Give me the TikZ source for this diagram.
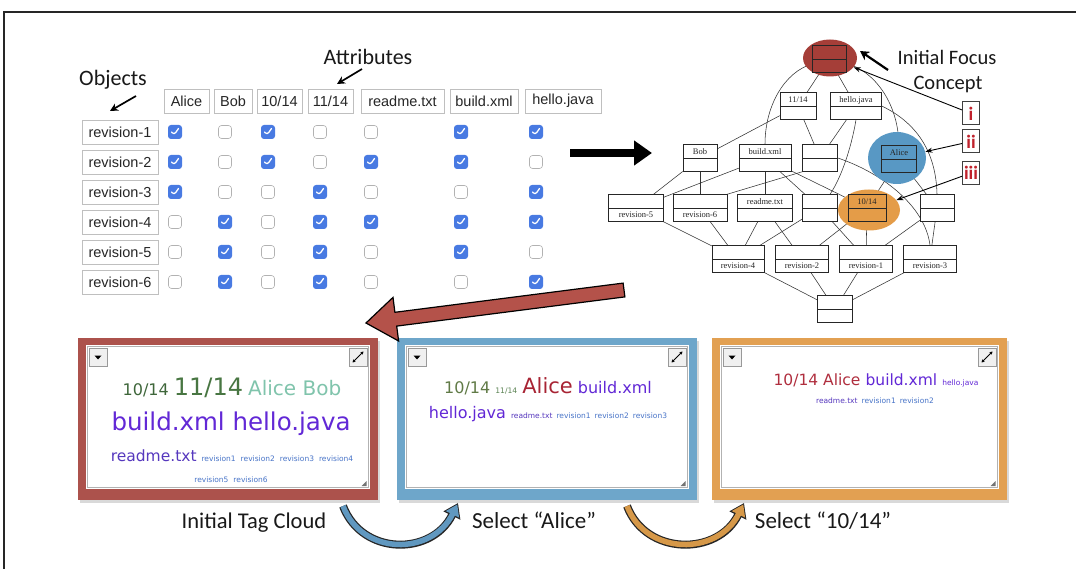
\documentclass[tikz,border=0pt]{standalone}
\usepackage{fontspec}
\setmainfont{Liberation Sans}
\newfontfamily\calfont{Carlito}
\newfontfamily\dvfont{DejaVu Sans}
\newfontfamily\tmsfont{Liberation Serif}
\usetikzlibrary{arrows.meta,shapes.geometric,calc}
\newcommand\fsz[1]{\fontsize{#1}{#1}\selectfont}
\pgfdeclarelayer{back}
\pgfdeclarelayer{bg}
\pgfsetlayers{back,bg,main}

\definecolor{cbblue}{RGB}{72,122,226}
\definecolor{frRed}{RGB}{172,82,76}
\definecolor{frBlue}{RGB}{110,166,202}
\definecolor{frOrg}{RGB}{226,160,82}
\definecolor{elRed}{RGB}{165,62,56}
\definecolor{elBlue}{RGB}{88,152,196}
\definecolor{elOrg}{RGB}{228,156,72}
\definecolor{arRed}{RGB}{180,82,74}
\definecolor{crvBlue}{RGB}{96,152,192}
\definecolor{crvOrg}{RGB}{214,152,72}
\definecolor{dgA}{RGB}{62,102,58}
\definecolor{dgB}{RGB}{72,118,66}
\definecolor{tealA}{RGB}{128,196,172}
\definecolor{purp}{RGB}{98,40,214}
\definecolor{rdm}{RGB}{86,56,190}
\definecolor{revb}{RGB}{72,116,200}
\definecolor{olv}{RGB}{96,122,70}
\definecolor{grnS}{RGB}{92,132,84}
\definecolor{redA}{RGB}{168,36,52}
\definecolor{redB}{RGB}{176,46,62}
\definecolor{romRed}{RGB}{192,34,44}

\tikzset{
  hdr/.style={draw=black!25, line width=0.6, fill=white, minimum height=24, inner sep=0, font=\fsz{14.5}, text=black!85},
  objc/.style={hdr, minimum width=76},
  cbon/.style={fill=cbblue, rounded corners=3, minimum size=14, inner sep=0,
    path picture={\draw[white, line width=1.3, line cap=round, line join=round]
      ([xshift=-3.5pt]path picture bounding box.center) -- ++(2.5,3) -- ++(4.5,-6.5);}},
  cboff/.style={draw=black!30, fill=white, rounded corners=3, minimum size=13, inner sep=0, line width=0.6},
  lat/.style={draw=black!85, line width=0.5, fill=white, minimum height=27, inner sep=0,
    path picture={\draw[black!85, line width=0.5] (path picture bounding box.west) -- (path picture bounding box.east);}},
  latc/.style={lat, fill=none},
  llab/.style={font=\tmsfont\fsz{8.5}, inner sep=0, anchor=base, text=black!85},
  latedge/.style={black!80, line width=0.55},
  captxt/.style={inner sep=0, anchor=base, text=black!90},
  cloudtxt/.style={font=\dvfont\fsz{16}, inner sep=0, anchor=base},
  romanbox/.style={draw=black!75, line width=1, fill=white, minimum width=17, minimum height=23, inner sep=0, font=\calfont\bfseries\fsz{19}, text=romRed},
  thinarr/.style={black, line width=0.9, -{Stealth[length=7pt,width=5pt]}},
  callarr/.style={black, line width=1.7, -{Stealth[length=8pt,width=8pt]}},
}

\newcommand\latn[7]{%
  \node[#1, minimum width=#5] (#2) at (#3,#4) {};
  \node[llab] at (#3,#4-3.5) {#6};
  \node[llab] at (#3,#4+10) {#7};
}

\newcommand\tagpanel[6]{%
  \fill[black!15] (#1+2,#2+3) rectangle (#3+2,#4+3);
  \fill[#5] (#1,#2) rectangle (#3,#4);
  \fill[white] (#1+8,#2+7) rectangle (#3-8,#4-11);
  \draw[black!30, line width=0.6] (#1+9.5,#2+8.5) rectangle (#3-9.5,#4-12.5);
  \node[draw=black!40, fill=black!6, minimum size=18, inner sep=0, line width=0.5] (#6L) at (#1+20,#2+19) {};
  \fill[black] (#1+16.5,#2+17.5) -- ++(7,0) -- ++(-3.5,4) -- cycle;
  \node[draw=black!40, fill=black!6, minimum size=18, inner sep=0, line width=0.5] (#6R) at (#3-20,#2+19) {};
  \draw[line width=0.9, {Stealth[length=3pt,width=3.5pt]}-{Stealth[length=3pt,width=3.5pt]}] (#3-25.5,#2+24.5) -- (#3-14.5,#2+13.5);
  \fill[black!55] (#3-11.5,#4-14) -- ++(0,-5) -- ++(-5,5) -- cycle;
}

\begin{document}
\begin{tikzpicture}[x=1pt,y=-1pt]
\useasboundingbox (0,0) rectangle (1076,569);
\begin{pgfonlayer}{back}
\fill[white] (0,0) rectangle (1076,569);
\end{pgfonlayer}
\draw[line width=1.2, black!85] (4,569) -- (4,12) -- (1076,12);

% ---------- table ----------
\node[captxt, font=\calfont\fsz{22}] (objL) at (113,86) {Objects};
\node[captxt, font=\calfont\fsz{22}] (attL) at (368,65) {Attributes};
\coordinate (oa1) at (136,96); \coordinate (oa2) at (110,111);
\draw[callarr] (oa1) -- (oa2);
\coordinate (aa1) at (362,69); \coordinate (aa2) at (337,84);
\draw[callarr] (aa1) -- (aa2);

\node[hdr, minimum width=45] (hA) at (186.5,101) {Alice};
\node[hdr, minimum width=38] (hB) at (233,101) {Bob};
\node[hdr, minimum width=45] (hC) at (279.5,101) {10/14};
\node[hdr, minimum width=45] (hD) at (330.5,101) {11/14};
\node[hdr, minimum width=83] (hE) at (402.5,101) {readme.txt};
\node[hdr, minimum width=68] (hF) at (484,101) {build.xml};
\node[hdr, minimum width=76] (hG) at (563,101) {hello.java};

\foreach \i in {1,...,6} {
  \node[objc] (rv\i) at (120,102+30*\i) {revision-\i};
}
\foreach \pat [count=\i] in {{1,0,1,0,0,1,1},{1,0,1,0,1,1,0},{1,0,0,1,0,0,1},{0,1,0,1,1,1,1},{0,1,0,1,0,1,0},{0,1,0,1,0,0,1}} {
  \foreach \v [count=\j] in \pat {
    \pgfmathsetmacro\xx{{175,225,268,320,371,461,536}[\j-1]}
    \ifnum\v=1
      \node[cbon] (cb-\i-\j) at (\xx,102+30*\i) {};
    \else
      \node[cboff] (cb-\i-\j) at (\xx,102+30*\i) {};
    \fi
  }
}

% black arrow
\coordinate (ba1) at (570,153); \coordinate (ba2) at (652,153);
\draw[line width=8, -{Triangle[length=18pt,width=24pt]}] (ba1) -- (ba2);

% ---------- lattice ----------
\node[ellipse, fill=elRed, minimum width=54, minimum height=37, inner sep=0] (eTop) at (830,58) {};
\node[ellipse, fill=elBlue, minimum width=58, minimum height=52, inner sep=0] (eAlice) at (897,158) {};
\node[ellipse, fill=elOrg, minimum width=62, minimum height=41, inner sep=0] (e1014) at (869,210) {};

\latn{latc}{ntop}{829}{59}{34}{}{}
\latn{lat}{n1114}{798}{106}{36}{11/14}{}
\latn{lat}{nhello}{856}{106}{51}{hello.java}{}
\latn{lat}{nbob}{700}{158}{34}{Bob}{}
\latn{lat}{nbuild}{765}{158}{52}{build.xml}{}
\latn{lat}{nb346}{820}{158}{35}{}{}
\latn{latc}{nalice}{899}{159}{35}{Alice}{}
\latn{lat}{nr5}{636}{208}{55}{}{revision-5}
\latn{lat}{nr6}{700}{208}{54}{}{revision-6}
\latn{lat}{nreadme}{765}{208}{55}{readme.txt}{}
\latn{lat}{nb14}{820}{208}{35}{}{}
\latn{latc}{n1014}{867}{208}{38}{10/14}{}
\latn{lat}{nb13}{937}{208}{34}{}{}
\latn{lat}{nr4}{738}{259}{52}{}{revision-4}
\latn{lat}{nr2}{802}{259}{53}{}{revision-2}
\latn{lat}{nr1}{866}{259}{53}{}{revision-1}
\latn{lat}{nr3}{930}{259}{53}{}{revision-3}
\latn{lat}{nbot}{835}{309}{35}{}{}

\begin{pgfonlayer}{bg}
\draw[latedge] (ntop) -- (n1114);
\draw[latedge] (ntop) -- (nhello);
\draw[latedge] (ntop) .. controls (785,72) and (765,105) .. (nbuild.north);
\draw[latedge] (ntop) .. controls (872,70) and (898,100) .. (nalice.north);
\draw[latedge] (n1114) -- (nbob);
\draw[latedge] (n1114) -- (nb346);
\draw[latedge] (nhello) -- (nb346);
\draw[latedge] (nhello.south) .. controls (851,150) and (840,180) .. ([xshift=10pt]nb14.north);
\draw[latedge] (nhello.east) .. controls (915,122) and (936,150) .. (nb13.north);
\draw[latedge] (nbob) -- (nr5);
\draw[latedge] (nbob) -- (nr6);
\draw[latedge] (nbuild) -- (nr5);
\draw[latedge] (nbuild) -- (nreadme);
\draw[latedge] (nbuild) -- (nb14);
\draw[latedge] (nbuild) -- (n1014);
\draw[latedge] (nb346.south west) -- (nr6.north east);
\draw[latedge] (nb346.east) .. controls (880,172) and (925,205) .. (nr3.north);
\draw[latedge] (nalice) -- (n1014);
\draw[latedge] (nalice) -- (nb13);
\draw[latedge] (nr5) -- (nr4);
\draw[latedge] (nr6) -- (nr4);
\draw[latedge] (nreadme) -- (nr4);
\draw[latedge] (nreadme) -- (nr2);
\draw[latedge] (nb14) -- (nr4);
\draw[latedge] (nb14) -- (nr1);
\draw[latedge] (n1014) -- (nr2);
\draw[latedge] (n1014) -- (nr1);
\draw[latedge] (nb13) -- (nr1);
\draw[latedge] (nb13) -- (nr3);
\draw[latedge] (nr4) -- (nbot);
\draw[latedge] (nr2) -- (nbot);
\draw[latedge] (nr1) -- (nbot);
\draw[latedge] (nr3) -- (nbot);
\end{pgfonlayer}

% focus labels
\node[captxt, font=\calfont\fsz{20.5}] (focA) at (947,65) {Initial Focus};
\node[captxt, font=\calfont\fsz{20.5}] (focB) at (948,90) {Concept};
\coordinate (fa1) at (888,70); \coordinate (fa2) at (860,51);
\draw[black, line width=2.2, -{Stealth[length=9pt,width=10pt]}] (fa1) -- (fa2);

\node[romanbox] (ni) at (971,113.5) {i};
\node[romanbox] (nii) at (971,141.5) {ii};
\node[romanbox] (niii) at (971,173) {iii};
\draw[thinarr] (ni) -- (eTop);
\draw[thinarr] (nii) -- (eAlice);
\draw[thinarr] (niii) -- (e1014);

% ---------- tag cloud panels ----------
\tagpanel{78}{338}{378}{500}{frRed}{pa}
\tagpanel{397}{338}{697}{500}{frBlue}{pb}
\tagpanel{712}{338}{1007}{500}{frOrg}{pc}

\node[cloudtxt] (p1a) at (232,395) {{\color{dgA}\fsz{16}10/14} {\color{dgB}\fsz{24}11/14} {\color{tealA}\fsz{20}Alice Bob}};
\node[cloudtxt] (p1b) at (231,430) {{\color{purp}\fsz{24.5}build.xml hello.java}};
\node[cloudtxt] (p1c) at (232,461) {{\color{rdm}\fsz{15.5}readme.txt}\hspace{5pt}{\color{revb}\fsz{7.5}revision1\hspace{5pt}revision2\hspace{5pt}revision3\hspace{5pt}revision4}};
\node[cloudtxt] (p1d) at (231,482) {{\color{revb}\fsz{7.5}revision5\hspace{5pt}revision6}};

\node[cloudtxt] (p2a) at (548,393) {{\color{olv}\fsz{16}10/14} {\color{grnS}\fsz{7.6}11/14} {\color{redA}\fsz{21}Alice} {\color{purp}\fsz{16}build.xml}};
\node[cloudtxt] (p2b) at (548,418) {{\color{purp}\fsz{16}hello.java} {\color{rdm}\fsz{7.5}readme.txt}\hspace{4pt}{\color{revb}\fsz{7.5}revision1\hspace{4pt}revision2\hspace{4pt}revision3}};

\node[cloudtxt] (p3a) at (876,385) {{\color{redB}\fsz{15.5}10/14 Alice} {\color{purp}\fsz{15.5}build.xml} {\color{purp}\fsz{7.5}hello.java}};
\node[cloudtxt] (p3b) at (875,403) {{\color{rdm}\fsz{7.5}readme.txt}\hspace{4pt}{\color{revb}\fsz{7.5}revision1\hspace{4pt}revision2}};

% big red arrow
\filldraw[fill=arRed, draw=black, line width=1.2, line join=miter]
  (623.1,283.1) -- (394.9,312.3) -- (393,297.4) -- (366,323) -- (398.6,341) -- (396.7,326.1) -- (624.9,296.9) -- cycle;

% bottom captions
\node[captxt, font=\calfont\fsz{22.5}] (capA) at (254,528) {Initial Tag Cloud};
\node[captxt, font=\calfont\fsz{23}] (capB) at (534,528) {Select “Alice”};
\node[captxt, font=\calfont\fsz{23}] (capC) at (823,528) {Select “10/14”};

% curved arrows
\coordinate (cu1) at (343,506); \coordinate (cu2) at (458,503);
\draw[line width=8, black!85, -{Triangle[length=14pt,width=18pt]}] (cu1) .. controls (362,556) and (432,556) .. (cu2);
\draw[line width=5.5, crvBlue, shorten >=1.6pt, -{Triangle[length=11pt,width=14pt]}] (cu1) .. controls (362,556) and (432,556) .. (cu2);
\coordinate (co1) at (627,506); \coordinate (co2) at (744,503);
\draw[line width=8, black!85, -{Triangle[length=14pt,width=18pt]}] (co1) .. controls (646,556) and (718,556) .. (co2);
\draw[line width=5.5, crvOrg, shorten >=1.6pt, -{Triangle[length=11pt,width=14pt]}] (co1) .. controls (646,556) and (718,556) .. (co2);
\end{tikzpicture}
\end{document}
